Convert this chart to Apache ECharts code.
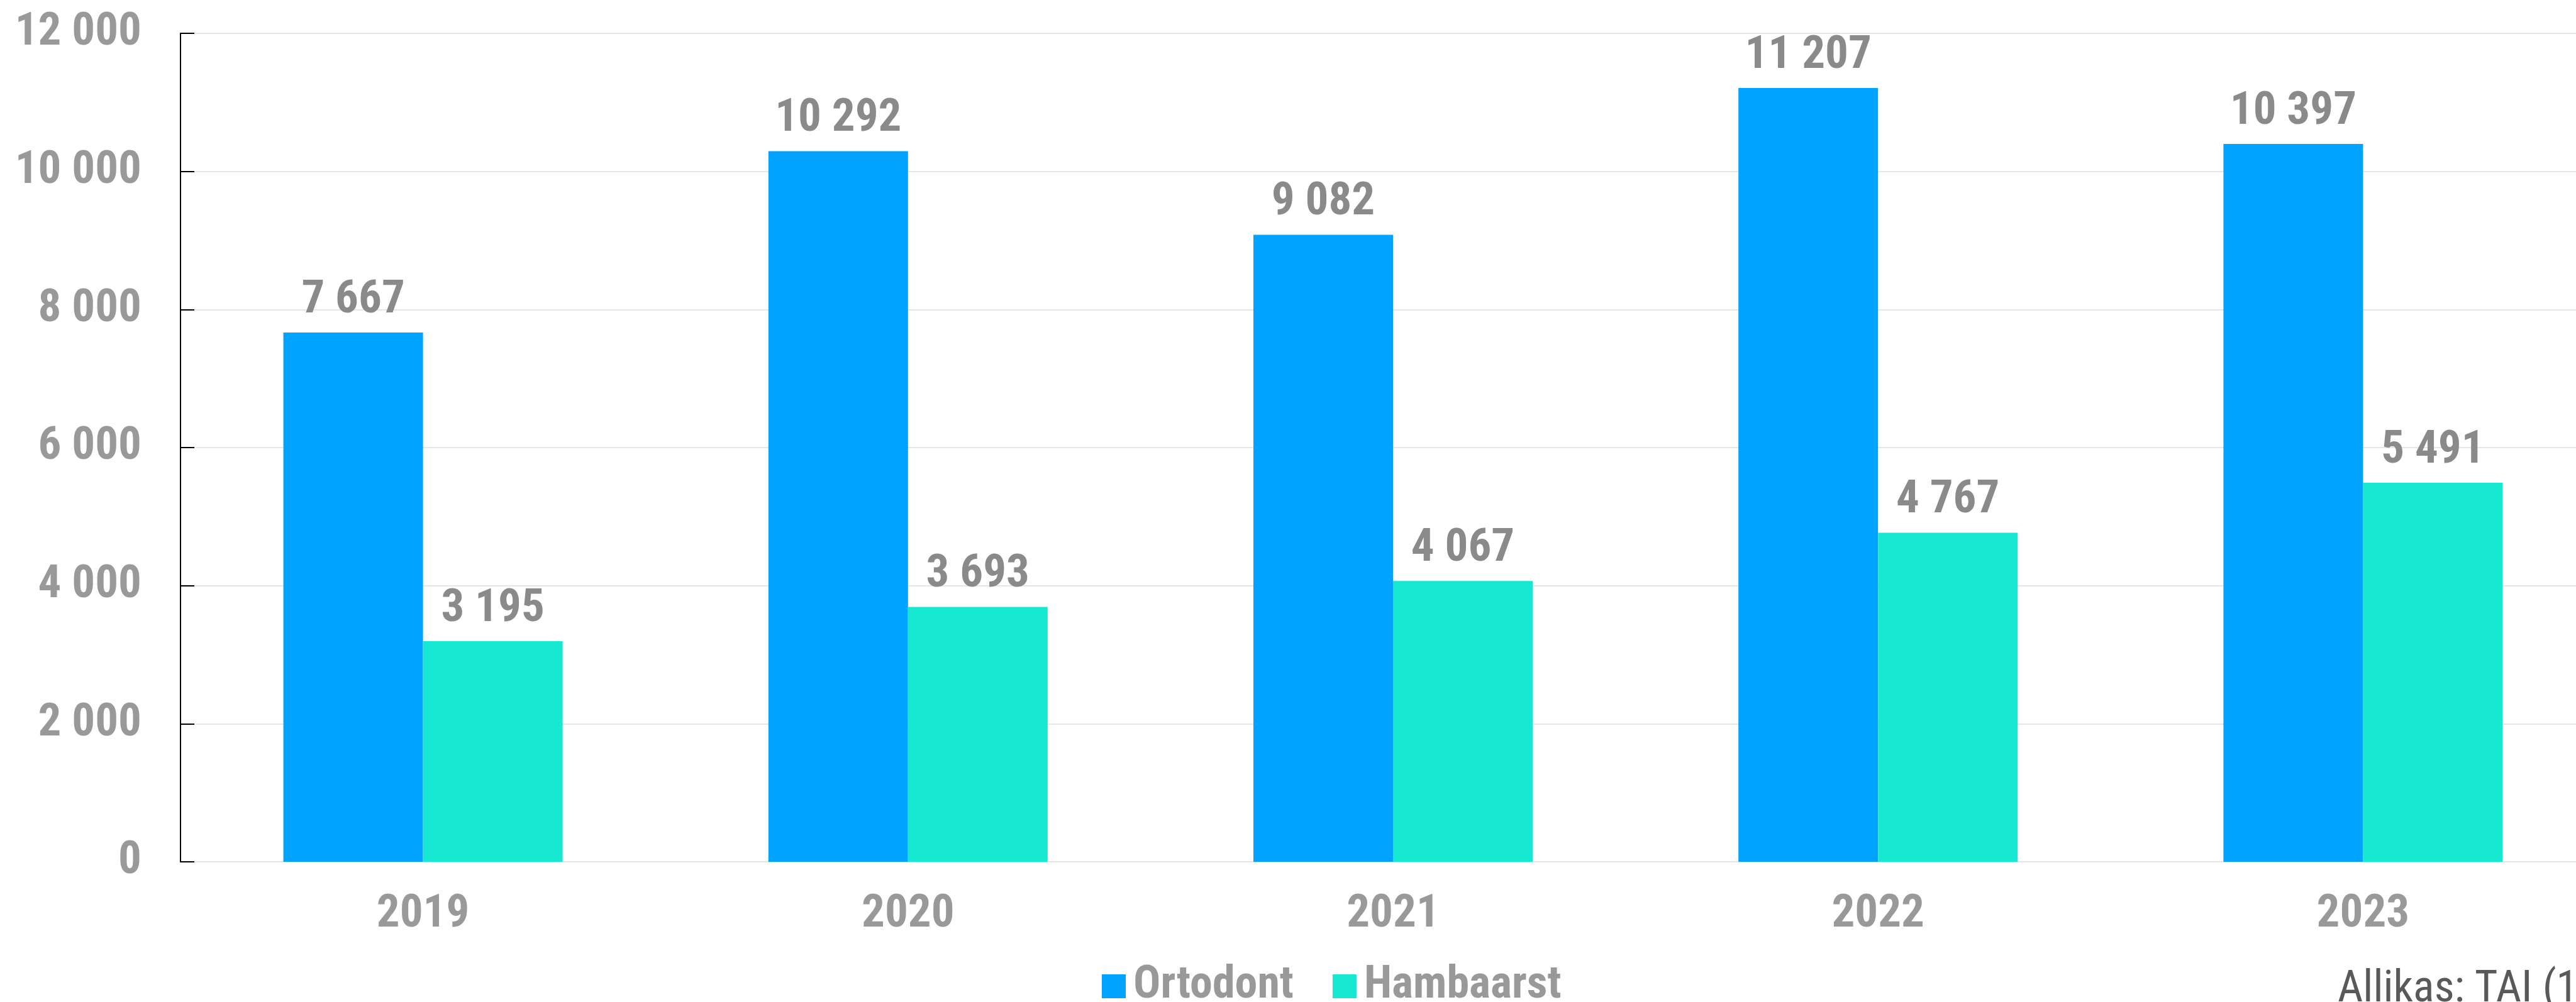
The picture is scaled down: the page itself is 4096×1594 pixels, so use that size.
<!DOCTYPE html>
<html>
<head>
<meta charset="utf-8">
<script src="https://cdn.jsdelivr.net/npm/echarts@6/dist/echarts.min.js"></script>
<style>
  html, body { margin: 0; padding: 0; background: #fff; overflow: hidden; }
  #chart { width: 4143px; height: 1594px; }
</style>
</head>
<body>
<div id="chart"></div>
<script>
/* Ortodondid ja hambaarstid aastate kaupa */
var years = ['2019', '2020', '2021', '2022', '2023'];
var ortodont = [7667, 10292, 9082, 11207, 10397];
var hambaarst = [3195, 3693, 4067, 4767, 5491];
var seriesNames = ['Ortodont', 'Hambaarst'];
var sourceText = 'Allikas: TAI (1)';

var FONT = "'Roboto Condensed', 'Liberation Sans Narrow', 'DejaVu Sans Condensed', sans-serif";

function fmt(v) {
  return String(v).replace(/\B(?=(\d{3})+(?!\d))/g, ' ');
}

var chart = echarts.init(document.getElementById('chart'));

var labelStyle = {
  show: true,
  position: 'top',
  distance: 14,
  color: '#8a8a8a',
  fontFamily: FONT,
  fontWeight: 'bold',
  fontSize: 73,
  formatter: function(p) { return fmt(p.value); }
};

chart.setOption({
  animation: false,
  color: ['#00a3ff', '#17e8d2'],
  grid: {
    left: 287,
    right: 0,
    top: 53,
    bottom: 223
  },
  legend: {
    left: 1747,
    top: 1528,
    itemWidth: 38,
    itemHeight: 38,
    itemGap: 62,
    icon: 'rect',
    textStyle: {
      color: '#999999',
      fontFamily: FONT,
      fontWeight: 'bold',
      fontSize: 72,
      padding: [0, 0, 0, 7]
    },
    data: seriesNames
  },
  graphic: [{
    type: 'text',
    left: 3717,
    top: 1540,
    style: {
      text: sourceText,
      fill: '#595959',
      font: '70px ' + FONT
    }
  }],
  xAxis: {
    type: 'category',
    data: years,
    axisLine: { show: false },
    axisTick: { show: false },
    axisLabel: {
      color: '#999999',
      fontFamily: FONT,
      fontWeight: 'bold',
      fontSize: 73,
      margin: 48
    }
  },
  yAxis: {
    type: 'value',
    min: 0,
    max: 12000,
    interval: 2000,
    axisLine: { show: true, lineStyle: { color: '#000', width: 2 } },
    axisTick: { show: true, inside: true, length: 22, lineStyle: { color: '#000', width: 2 } },
    splitLine: { show: true, lineStyle: { color: '#e6e6e6', width: 2 } },
    axisLabel: {
      color: '#999999',
      fontFamily: FONT,
      fontWeight: 'bold',
      fontSize: 73,
      margin: 62,
      formatter: function(v) { return fmt(v); }
    }
  },
  series: [
    {
      name: seriesNames[0],
      type: 'bar',
      barWidth: 222,
      barGap: '0%',
      label: labelStyle,
      data: ortodont
    },
    {
      name: seriesNames[1],
      type: 'bar',
      barWidth: 222,
      barGap: '0%',
      label: labelStyle,
      data: hambaarst
    }
  ]
});
</script>
</body>
</html>
